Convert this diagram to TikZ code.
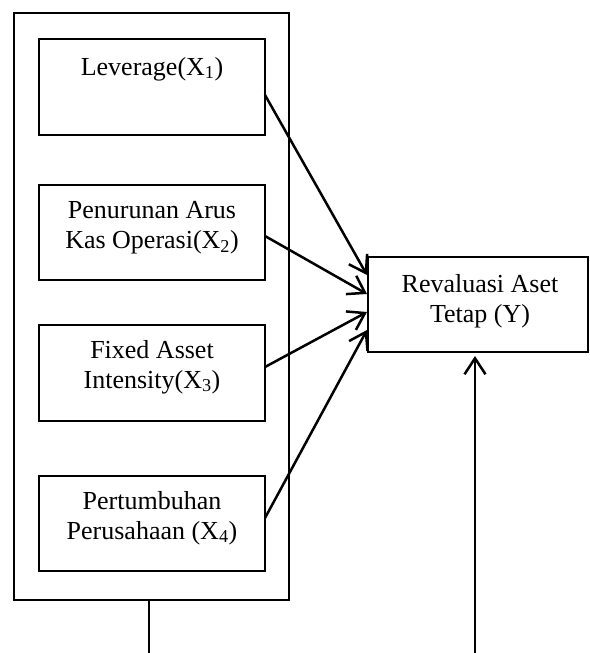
\documentclass[tikz,border=0pt]{standalone}
\usepackage{fontspec}
\setmainfont{Liberation Serif}
\usetikzlibrary{arrows.meta}
\begin{document}
\begin{tikzpicture}[x=1pt,y=-1pt,
  boxstyle/.style={draw, line width=2.7pt, inner sep=0pt},
  lbl/.style={font=\fontsize{26}{30}\selectfont, align=center, inner sep=0pt},
  conn/.style={line width=2.5pt, -{Straight Barb[length=16pt,width=21pt,line width=2.5pt]}},
  plain/.style={line width=2.5pt}]
\useasboundingbox (0,0) rectangle (589,653);
% outer box
\draw[boxstyle] (14,13) rectangle (289,600);
\coordinate (outerbot) at (149,600);
% inner boxes
\draw[boxstyle] (39,39) rectangle (265,135);
\node[lbl] (t1) at (152,69) {Leverage(X\textsubscript{1})};
\draw[boxstyle] (39,185) rectangle (265,280);
\node[lbl] (t2) at (152,228) {Penurunan Arus\\Kas Operasi(X\textsubscript{2})};
\draw[boxstyle] (39,325) rectangle (265,421);
\node[lbl] (t3) at (152,367) {Fixed Asset\\Intensity(X\textsubscript{3})};
\draw[boxstyle] (39,476) rectangle (265,571);
\node[lbl] (t4) at (152,518) {Pertumbuhan\\Perusahaan (X\textsubscript{4})};
% Y box
\draw[boxstyle] (368,257) rectangle (588,352);
\node[lbl] (ty) at (480,301) {Revaluasi Aset\\Tetap (Y)};
% connector coordinates
\coordinate (s1) at (265,95);
\coordinate (s2) at (265,236);
\coordinate (s3) at (265,367);
\coordinate (s4) at (265,518);
\coordinate (e1) at (367,275);
\coordinate (e2) at (367,294);
\coordinate (e3) at (367,312);
\coordinate (e4) at (367,330);
\coordinate (ybot) at (475,356);
\coordinate (bl) at (149,653);
\coordinate (br) at (475,653);
\draw[conn] (s1) -- (e1);
\draw[conn] (s2) -- (e2);
\draw[conn] (s3) -- (e3);
\draw[conn] (s4) -- (e4);
\draw[plain] (outerbot) -- (bl);
\draw[conn] (br) -- (ybot);
\end{tikzpicture}
\end{document}
